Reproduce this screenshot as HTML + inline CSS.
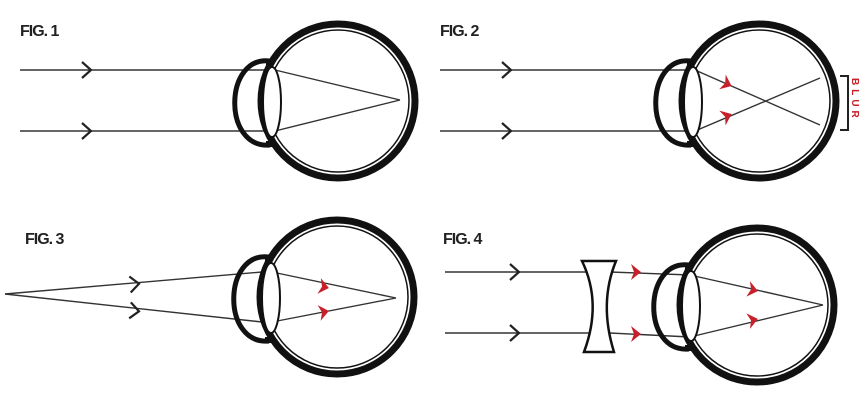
<!DOCTYPE html>
<html><head><meta charset="utf-8"><style>
html,body{margin:0;padding:0;background:#fff;}
svg{display:block;}
text{font-family:"Liberation Sans",sans-serif;font-weight:bold;}
</style></head><body>
<svg width="866" height="412" viewBox="0 0 866 412" xmlns="http://www.w3.org/2000/svg">
<defs>
<g id="eye">
  <circle cx="0" cy="0" r="77" fill="none" stroke="#111" stroke-width="7"/>
  <circle cx="0" cy="0" r="71" fill="none" stroke="#111" stroke-width="1.5"/>
  <path d="M -68,-40 C -114,-46 -116,48 -68,44" fill="none" stroke="#111" stroke-width="5"/>
  <path d="M -72,-39 L -65,-39 M -72,43 L -65,43" stroke="#111" stroke-width="6"/>
  <ellipse cx="-66" cy="1" rx="9" ry="35" fill="#fff" stroke="#111" stroke-width="2"/>
</g>
<path id="ba" d="M -6,-8 L 3,0 L -6,8" fill="none" stroke="#222" stroke-width="2.2"/>
<path id="ra" d="M -5,-8 L 5,0 L -5,8 L -2,0 Z" fill="#c8202a"/>
</defs>
<g stroke="#333" stroke-width="1.4" fill="none">
<line x1="20" y1="70" x2="268" y2="70"/><line x1="20" y1="131" x2="268" y2="131"/>
<line x1="275" y1="70" x2="400" y2="100"/><line x1="275" y1="131" x2="400" y2="100"/>
<line x1="440" y1="70" x2="688" y2="70"/><line x1="440" y1="131" x2="688" y2="131"/>
<line x1="695" y1="70" x2="820" y2="125"/><line x1="695" y1="131" x2="820" y2="78"/>
<path d="M 840,76 L 848,76 L 848,130 L 840,130" stroke="#222" stroke-width="2"/>
<line x1="5" y1="294" x2="262" y2="272"/><line x1="5" y1="294" x2="262" y2="322"/>
<line x1="272" y1="272" x2="396" y2="298"/><line x1="272" y1="322" x2="396" y2="298"/>
<line x1="445" y1="272" x2="590" y2="272"/><line x1="445" y1="333" x2="590" y2="333"/>
<line x1="610" y1="272" x2="690" y2="275"/><line x1="610" y1="333" x2="690" y2="337"/>
<line x1="690" y1="275" x2="823" y2="305"/><line x1="690" y1="337" x2="823" y2="305"/>
</g>
<use href="#eye" x="338" y="101"/>
<use href="#eye" x="759" y="101"/>
<use href="#eye" x="337" y="297"/>
<use href="#eye" x="757" y="305"/>
<path d="M 582,261 L 616,261 C 604,290 604,320 614,352 L 584,352 C 596,320 596,290 582,261 Z" fill="#fff" stroke="#111" stroke-width="2.5"/>
<use href="#ba" x="88" y="70"/><use href="#ba" x="88" y="131"/>
<use href="#ba" x="508" y="70"/><use href="#ba" x="508" y="131"/>
<use href="#ba" transform="translate(136,284) rotate(-5)"/><use href="#ba" transform="translate(136,311) rotate(6)"/>
<use href="#ba" x="516" y="272"/><use href="#ba" x="516" y="333"/>
<use href="#ra" transform="translate(727,84) rotate(24)"/><use href="#ra" transform="translate(727,116) rotate(-23)"/>
<use href="#ra" transform="translate(324,287) rotate(12)"/><use href="#ra" transform="translate(324,312) rotate(-11)"/>
<use href="#ra" x="636" y="272"/><use href="#ra" x="636" y="334"/>
<use href="#ra" transform="translate(753,290) rotate(13)"/><use href="#ra" transform="translate(753,320) rotate(-13)"/>
<text x="20" y="36" font-size="16" fill="#222" letter-spacing="-1">FIG. 1</text>
<text x="440" y="36" font-size="16" fill="#222" letter-spacing="-1">FIG. 2</text>
<text x="25" y="244" font-size="16" fill="#222" letter-spacing="-1">FIG. 3</text>
<text x="443" y="244" font-size="16" fill="#222" letter-spacing="-1">FIG. 4</text>
<text x="0" y="0" font-size="10" fill="#c8202a" transform="translate(852,78) rotate(90)" letter-spacing="4">BLUR</text>
</svg>
</body></html>
